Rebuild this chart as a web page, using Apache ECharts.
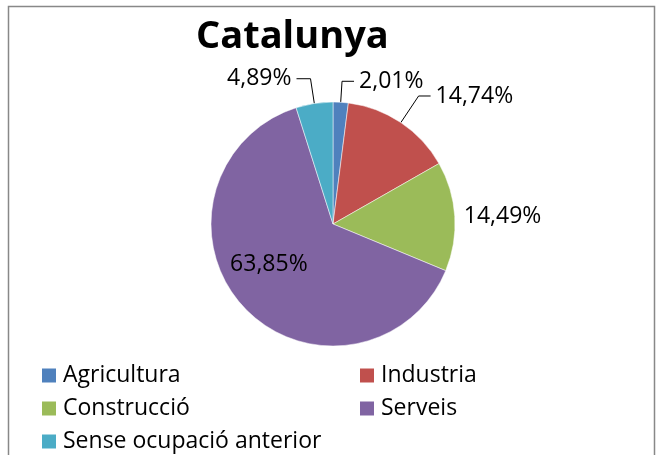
<!DOCTYPE html>
<html>
<head>
<meta charset="utf-8">
<script src="https://cdn.jsdelivr.net/npm/echarts@6/dist/echarts.min.js"></script>
<style>
html,body{margin:0;padding:0;background:#fff;}
#chart{width:658px;height:455px;}
</style>
</head>
<body>
<div id="chart"></div>
<script>
const categories = ['Agricultura', 'Industria', 'Construcció', 'Serveis', 'Sense ocupació anterior'];
const values = [2.01, 14.74, 14.49, 63.85, 4.89];
const colors = ['#4F81BD', '#C0504D', '#9BBB59', '#8064A2', '#4BACC6'];
const titleText = 'Catalunya';

const FONT = '"Open Sans", "DejaVu Sans", sans-serif';
const fmt = v => v.toFixed(2).replace('.', ',') + '%';

const labelCfg = [
  { position: 'outside', lineLen: 21, lineLen2: 12, line: true },
  { position: 'outside', lineLen: 32, lineLen2: 12, line: true },
  { position: 'outside', lineLen: 4, lineLen2: 0, line: false },
  { position: 'inside', offset: [-17, -3] },
  { position: 'outside', lineLen: 25, lineLen2: 14, line: true }
];

// legend slots: [left, top] per category
const legendPos = [[42, 364], [360, 364], [42, 397], [360, 397], [42, 430]];

const data = categories.map((name, i) => {
  const c = labelCfg[i];
  const item = {
    name: name,
    value: values[i],
    itemStyle: { color: colors[i] },
    label: {
      show: true,
      position: c.position,
      formatter: () => fmt(values[i]),
      color: '#000',
      fontFamily: FONT,
      fontSize: 23
    }
  };
  if (c.offset) item.label.offset = c.offset;
  if (c.position === 'outside') {
    item.labelLine = {
      show: c.line,
      length: c.lineLen,
      length2: c.lineLen2,
      smooth: false,
      lineStyle: { color: '#000', width: 1 }
    };
  }
  return item;
});

const legends = categories.map((name, i) => ({
  orient: 'horizontal',
  left: legendPos[i][0],
  top: legendPos[i][1],
  padding: 0,
  data: [name],
  icon: 'rect', itemWidth: 14, itemHeight: 14,
  itemStyle: { borderWidth: 0 },
  textStyle: { fontFamily: FONT, fontSize: 23, color: '#000', padding: [0, 0, 0, 2] },
  selectedMode: false
}));

const chart = echarts.init(document.getElementById('chart'), null, { renderer: 'canvas' });
chart.setOption({
  animation: false,
  backgroundColor: '#fff',
  title: {
    text: titleText,
    left: 196,
    top: 18,
    padding: 0,
    textStyle: { fontFamily: FONT, fontWeight: 'bold', fontSize: 38, color: '#000' }
  },
  legend: legends,
  graphic: [{
    type: 'rect',
    shape: { x: 8.5, y: 6.5, width: 646, height: 470 },
    style: { fill: 'none', stroke: '#888', lineWidth: 1.5 },
    silent: true
  }],
  series: [{
    type: 'pie',
    center: [333, 224],
    radius: 122,
    startAngle: 90,
    clockwise: true,
    avoidLabelOverlap: false,
    itemStyle: { borderColor: '#fff', borderWidth: 0.5 },
    data: data
  }]
});
</script>
</body>
</html>
